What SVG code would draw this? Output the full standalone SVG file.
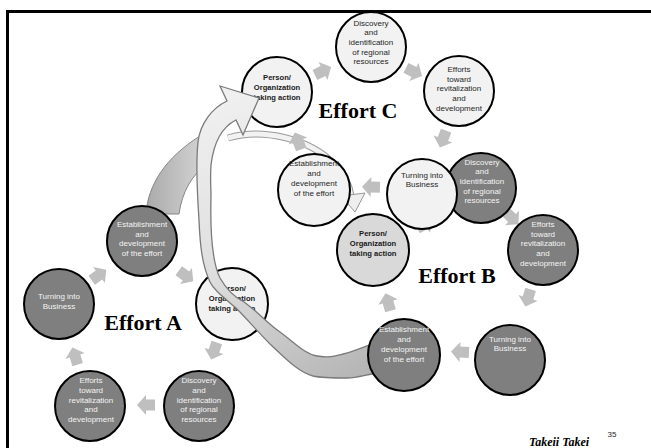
<svg xmlns="http://www.w3.org/2000/svg" width="651" height="448" viewBox="0 0 651 448">
<style>
.lc{fill:#f2f2f2;stroke:#000;stroke-width:2}
.mc{fill:#d9d9d9;stroke:#000;stroke-width:2}
.dc{fill:#7f7f7f;stroke:#000;stroke-width:2}
.t{font-family:"Liberation Sans",Arial,sans-serif;font-size:8px;text-anchor:middle;fill:#262626}
.tb{font-family:"Liberation Sans",Arial,sans-serif;font-size:7.6px;font-weight:bold;text-anchor:middle;fill:#1a1a1a}
.tw{font-family:"Liberation Sans",Arial,sans-serif;font-size:8px;text-anchor:middle;fill:#f4f4f4}
.lbl{font-family:"Liberation Serif","Times New Roman",serif;font-size:22px;font-weight:bold;text-anchor:middle;fill:#000}
.sa{fill:#bfbfbf}
</style>
<defs>
<path id="ar" d="M-9,-5.5 H0 V-10 L9,0 L0,10 V5.5 H-9 Z"/>
<linearGradient id="gb" gradientUnits="userSpaceOnUse" x1="200" y1="90" x2="370" y2="375">
<stop offset="0" stop-color="#f2f2f2"/><stop offset="0.5" stop-color="#dedede"/><stop offset="1" stop-color="#b4b4b4"/>
</linearGradient>
<linearGradient id="ga" gradientUnits="userSpaceOnUse" x1="146" y1="0" x2="205" y2="0">
<stop offset="0" stop-color="#aaaaaa"/><stop offset="1" stop-color="#d4d4d4"/>
</linearGradient>
</defs>
<rect width="651" height="448" fill="#fff"/>
<rect x="6" y="10" width="645" height="3" fill="#000"/>
<rect x="6" y="10" width="3" height="438" fill="#000"/>

<g id="connectors">
<path d="M228 138 C262 128,310 138,335 165 C345 176,350 188,351 196" fill="none" stroke="#9a9a9a" stroke-width="7"/>
<path d="M228 138 C262 128,310 138,335 165 C345 176,350 188,351 196" fill="none" stroke="#f2f2f2" stroke-width="5"/>
<polygon points="341,196 365,193 355,212" fill="#eeeeee" stroke="#999" stroke-width="1"/>
<path d="M146 214 C148 185,165 158,200 136 L206 165 C192 175,182 192,179 214 Z" fill="url(#ga)" stroke="#858585" stroke-width="1"/>
<g class="sa">
<use href="#ar" transform="translate(323,71) rotate(-26)"/>
<use href="#ar" transform="translate(414,72) rotate(27)"/>
<use href="#ar" transform="translate(443,139) rotate(110)"/>
<use href="#ar" transform="translate(371,187) rotate(182)"/>
<use href="#ar" transform="translate(298,141) rotate(-111)"/>
<use href="#ar" transform="translate(425,224) rotate(-30)"/>
<use href="#ar" transform="translate(512,218) rotate(44)"/>
<use href="#ar" transform="translate(528,298) rotate(107)"/>
<use href="#ar" transform="translate(460,352) rotate(183)"/>
<use href="#ar" transform="translate(388,302) rotate(-106)"/>
<use href="#ar" transform="translate(214,351) rotate(108)"/>
<use href="#ar" transform="translate(146,405) rotate(180)"/>
<use href="#ar" transform="translate(75,356) rotate(-107)"/>
<use href="#ar" transform="translate(99,275) rotate(-36)"/>
<use href="#ar" transform="translate(186,276) rotate(36)"/>
</g>
</g>

<g id="a-establishment"><circle class="dc" cx="142" cy="241" r="35"/>
<text class="tw"><tspan x="142" y="226.9">Establishment</tspan><tspan x="142" y="236.6">and</tspan><tspan x="142" y="246.3">development</tspan><tspan x="142" y="256">of the effort</tspan></text></g>
<g id="a-turning"><circle class="dc" cx="59" cy="304" r="35"/>
<text class="tw"><tspan x="59" y="298.9">Turning into</tspan><tspan x="59" y="308.6">Business</tspan></text></g>
<g id="a-efforts"><circle class="dc" cx="90" cy="406" r="35"/>
<text class="tw"><tspan x="91" y="383.1">Efforts</tspan><tspan x="91" y="392.8">toward</tspan><tspan x="91" y="402.5">revitalization</tspan><tspan x="91" y="412.2">and</tspan><tspan x="91" y="421.9">development</tspan></text></g>
<g id="a-discovery"><circle class="dc" cx="199" cy="406" r="35"/>
<text class="tw"><tspan x="199" y="383.1">Discovery</tspan><tspan x="199" y="392.8">and</tspan><tspan x="199" y="402.5">identification</tspan><tspan x="199" y="412.2">of regional</tspan><tspan x="199" y="421.9">resources</tspan></text></g>
<g id="a-person"><circle class="lc" cx="232" cy="304" r="36"/>
<text class="tb"><tspan x="232" y="291.2">Person/</tspan><tspan x="232" y="300.9">Organization</tspan><tspan x="232" y="310.6">taking action</tspan></text></g>

<g id="b-person"><circle class="mc" cx="373" cy="250" r="36"/>
<text class="tb"><tspan x="373" y="236.2">Person/</tspan><tspan x="373" y="245.9">Organization</tspan><tspan x="373" y="255.6">taking action</tspan></text></g>
<g id="b-discovery"><circle class="dc" cx="481" cy="188" r="35"/>
<text class="tw"><tspan x="482" y="164.5">Discovery</tspan><tspan x="482" y="174.2">and</tspan><tspan x="482" y="183.9">identification</tspan><tspan x="482" y="193.6">of regional</tspan><tspan x="482" y="203.3">resources</tspan></text></g>
<g id="b-efforts"><circle class="dc" cx="543" cy="250" r="35"/>
<text class="tw"><tspan x="543" y="227">Efforts</tspan><tspan x="543" y="236.7">toward</tspan><tspan x="543" y="246.4">revitalization</tspan><tspan x="543" y="256.1">and</tspan><tspan x="543" y="265.8">development</tspan></text></g>
<g id="b-turning"><circle class="dc" cx="510" cy="360" r="35"/>
<text class="tw"><tspan x="510" y="341.5">Turning into</tspan><tspan x="510" y="351.2">Business</tspan></text></g>

<g id="c-person"><circle class="lc" cx="277" cy="92" r="35"/>
<text class="tb"><tspan x="277" y="80.2">Person/</tspan><tspan x="277" y="89.9">Organization</tspan><tspan x="277" y="99.6">taking action</tspan></text></g>
<g id="c-discovery"><circle class="lc" cx="371" cy="47" r="35"/>
<text class="t"><tspan x="371" y="25.5">Discovery</tspan><tspan x="371" y="35.2">and</tspan><tspan x="371" y="44.9">identification</tspan><tspan x="371" y="54.6">of regional</tspan><tspan x="371" y="64.3">resources</tspan></text></g>
<g id="c-efforts"><circle class="lc" cx="459" cy="91" r="35"/>
<text class="t"><tspan x="459" y="72">Efforts</tspan><tspan x="459" y="81.7">toward</tspan><tspan x="459" y="91.4">revitalization</tspan><tspan x="459" y="101.1">and</tspan><tspan x="459" y="110.8">development</tspan></text></g>
<g id="c-turning"><circle class="lc" cx="422" cy="194" r="35"/>
<text class="t"><tspan x="422" y="177.5">Turning into</tspan><tspan x="422" y="187.2">Business</tspan></text></g>
<g id="c-establishment"><circle class="lc" cx="314" cy="190" r="36"/>
<text class="t"><tspan x="314" y="166.4">Establishment</tspan><tspan x="314" y="176.1">and</tspan><tspan x="314" y="185.8">development</tspan><tspan x="314" y="195.5">of the effort</tspan></text></g>

<g id="ribbon-arrow">
<path d="M220 86 L259 98 L243 135 L236 120 C224 126,214 140,211 165 C210 180,211 188,211 195 C210 235,212 262,220 278 C228 292,236 298,244 302 C258 312,268 324,280 332 C295 343,305 354,317 356 C328 358,335 356,343 354 C355 351,365 346,376 343 L379 373 C368 374,358 378,347 378 C335 378,322 378,313 376 C298 372,285 358,270 344 C258 332,246 318,236 308 C222 296,214 290,210 282 C202 265,200 245,199 220 C197 190,196 160,198 142 C200 124,212 108,227 101 Z" fill="url(#gb)" stroke="#7a7a7a" stroke-width="1.3"/>
</g>

<g id="b-establishment"><circle class="dc" cx="404" cy="355" r="36"/>
<text class="tw"><tspan x="404" y="332.4">Establishment</tspan><tspan x="404" y="342.1">and</tspan><tspan x="404" y="351.8">development</tspan><tspan x="404" y="361.5">of the effort</tspan></text></g>

<text class="lbl" x="358" y="118">Effort C</text>
<text class="lbl" x="457" y="283">Effort B</text>
<text class="lbl" x="143" y="330">Effort A</text>
<text x="559" y="446" font-family="'Liberation Serif','Times New Roman',serif" font-size="12" font-weight="bold" font-style="italic" text-anchor="middle" fill="#000">Takeii Takei</text>
<text x="612" y="437" font-family="'Liberation Sans',Arial,sans-serif" font-size="8" text-anchor="middle" fill="#262626">35</text>
</svg>
